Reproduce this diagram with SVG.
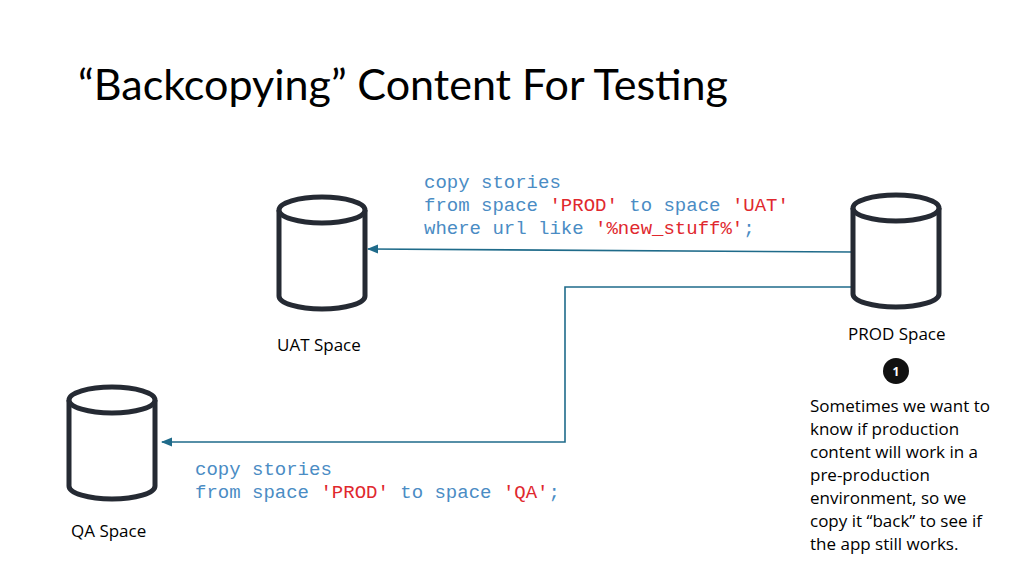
<svg xmlns="http://www.w3.org/2000/svg" width="1024" height="576" viewBox="0 0 1024 576">
<style>
.cyl{fill:#fff;stroke:#252a33;stroke-width:5}
.code{font-family:"Liberation Mono",monospace;font-size:19px;fill:#4a8cc4}
.r{fill:#e0282e}
.lbl{font-family:"Open Sans","Liberation Sans",sans-serif;font-size:17px;fill:#000}
.ln{fill:none;stroke:#1f6b8a;stroke-width:1.6}
</style>
<defs><marker id="ah" viewBox="0 0 10 10" refX="9" refY="5" markerWidth="7" markerHeight="7" orient="auto-start-reverse"><path d="M0,1 L10,5 L0,9z" fill="#1f6b8a"/></marker></defs>
<rect width="1024" height="576" fill="#fff"/>
<text x="78" y="100" font-family="Lato,'Open Sans',sans-serif" font-size="42" fill="#000" textLength="650" lengthAdjust="spacingAndGlyphs">“Backcopying” Content For Testing</text>
<g id="connectors">
<path class="ln" d="M853,252 L368,249" marker-end="url(#ah)"/>
<path class="ln" d="M853,287 L565,287 L565,442 L162,442" marker-end="url(#ah)"/>
</g>
<g id="uat"><path class="cyl" d="M279,210 L279,296 A43,13 0 0 0 365,296 L365,210"/><ellipse class="cyl" cx="322" cy="210" rx="43" ry="13"/>
<text class="lbl" x="277" y="351">UAT Space</text></g>
<g id="prod"><path class="cyl" d="M853,208 L853,294 A43,13 0 0 0 939,294 L939,208"/><ellipse class="cyl" cx="896" cy="208" rx="43" ry="13"/>
<text class="lbl" x="848" y="340">PROD Space</text></g>
<g id="qa"><path class="cyl" d="M69,400 L69,486 A43,13 0 0 0 155,486 L155,400"/><ellipse class="cyl" cx="112" cy="400" rx="43" ry="13"/>
<text class="lbl" x="71" y="537">QA Space</text></g>
<g id="code1"><text class="code" x="424" y="188">copy stories</text>
<text class="code" x="424" y="211">from space <tspan class="r">'PROD'</tspan> to space <tspan class="r">'UAT'</tspan></text>
<text class="code" x="424" y="234">where url like <tspan class="r">'%new_stuff%'</tspan>;</text></g>
<g id="code2"><text class="code" x="195" y="475">copy stories</text>
<text class="code" x="195" y="498">from space <tspan class="r">'PROD'</tspan> to space <tspan class="r">'QA'</tspan>;</text></g>
<g id="note"><circle cx="896" cy="371" r="13" fill="#111"/><text x="896" y="376" text-anchor="middle" font-family="'Open Sans',sans-serif" font-size="12" font-weight="bold" fill="#fff">1</text>
<g class="lbl" font-size="16"><text x="810" y="412">Sometimes we want to</text><text x="810" y="435">know if production</text><text x="810" y="458">content will work in a</text><text x="810" y="481">pre-production</text><text x="810" y="504">environment, so we</text><text x="810" y="527">copy it “back” to see if</text><text x="810" y="550">the app still works.</text></g></g>
</svg>
